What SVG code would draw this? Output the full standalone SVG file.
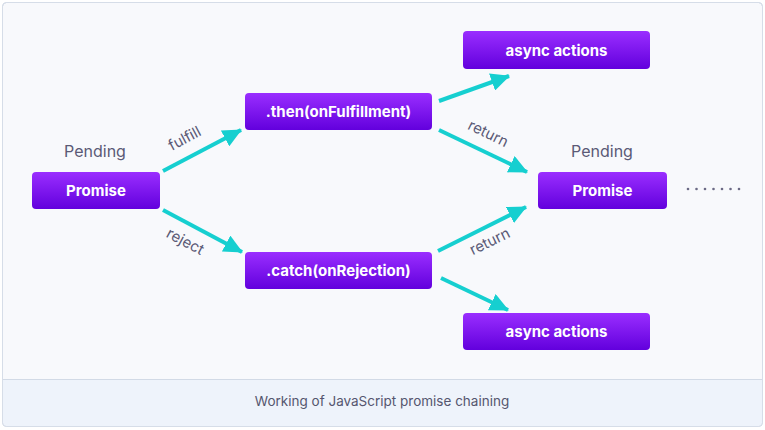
<svg xmlns="http://www.w3.org/2000/svg" width="765" height="430" viewBox="0 0 765 430">
<defs>
<linearGradient id="g" x1="0" y1="0" x2="0" y2="1">
<stop offset="0" stop-color="#9a2eff"/>
<stop offset="1" stop-color="#6200dd"/>
</linearGradient>
<marker id="ah" markerUnits="userSpaceOnUse" markerWidth="20" markerHeight="18" refX="18" refY="9" orient="auto">
<path d="M0,0 L19,9 L0,18 Z" fill="#16cfd0"/>
</marker>
<style>
.box{fill:url(#g);}
.bt{font-family:Inter,"Liberation Sans",sans-serif;font-weight:700;font-size:15px;fill:#ffffff;text-anchor:middle;}
.pend{font-family:Inter,"Liberation Sans",sans-serif;font-size:16px;fill:#5b5a76;text-anchor:middle;}
.lbl{font-family:Inter,"Liberation Sans",sans-serif;font-size:15px;fill:#5b5a76;text-anchor:middle;}
.edge{stroke:#16cfd0;stroke-width:4;fill:none;marker-end:url(#ah);}
.cap{font-family:Inter,"Liberation Sans",sans-serif;font-size:13.5px;fill:#55566f;text-anchor:middle;}
</style>
</defs>
<rect x="2.5" y="2.5" width="760" height="424" rx="4" fill="#f8f9fc" stroke="#d6dde8"/>
<path d="M3,379.5 H762 V423 a3,3 0 0 1 -3,3 H6 a3,3 0 0 1 -3,-3 Z" fill="#eef3fb"/>
<line x1="3" y1="379.5" x2="762" y2="379.5" stroke="#d2dae6"/>
<rect x="2.5" y="2.5" width="760" height="424" rx="4" fill="none" stroke="#d6dde8"/>

<g id="connectors">
<line class="edge" x1="163" y1="171" x2="241" y2="130"/>
<line class="edge" x1="163" y1="210" x2="242" y2="252"/>
<line class="edge" x1="439" y1="101" x2="509" y2="76"/>
<line class="edge" x1="439" y1="130" x2="527" y2="172"/>
<line class="edge" x1="438" y1="251" x2="526" y2="207"/>
<line class="edge" x1="441" y1="278" x2="508" y2="310"/>
<text class="lbl" transform="translate(187,143) rotate(-28)">fulfill</text>
<text class="lbl" transform="translate(183,246) rotate(28)">reject</text>
<text class="lbl" transform="translate(486,138) rotate(26)">return</text>
<text class="lbl" transform="translate(492,246) rotate(-26)">return</text>
</g>

<g id="promise1">
<text class="pend" x="95" y="157">Pending</text>
<rect class="box" x="32" y="172" width="128" height="37" rx="4"/>
<text class="bt" x="96" y="195.5">Promise</text>
</g>
<g id="then">
<rect class="box" x="245" y="93" width="187" height="37" rx="4"/>
<text class="bt" x="338.5" y="116.5">.then(onFulfillment)</text>
</g>
<g id="catch">
<rect class="box" x="245" y="252" width="187" height="37" rx="4"/>
<text class="bt" x="338.5" y="275.5">.catch(onRejection)</text>
</g>
<g id="async1">
<rect class="box" x="463" y="31" width="187" height="38" rx="4"/>
<text class="bt" x="556.5" y="55.5">async actions</text>
</g>
<g id="async2">
<rect class="box" x="463" y="313" width="187" height="37" rx="4"/>
<text class="bt" x="556.5" y="337">async actions</text>
</g>
<g id="promise2">
<text class="pend" x="602" y="157">Pending</text>
<rect class="box" x="538" y="172" width="129" height="37" rx="4"/>
<text class="bt" x="602.5" y="195.5">Promise</text>
</g>
<g id="dots" fill="#6b6a85">
<circle cx="688" cy="189" r="1.3"/><circle cx="696.5" cy="189" r="1.3"/><circle cx="705" cy="189" r="1.3"/><circle cx="713.5" cy="189" r="1.3"/><circle cx="722" cy="189" r="1.3"/><circle cx="730.5" cy="189" r="1.3"/><circle cx="739" cy="189" r="1.3"/>
</g>
<text class="cap" x="382" y="406">Working of JavaScript promise chaining</text>
</svg>
